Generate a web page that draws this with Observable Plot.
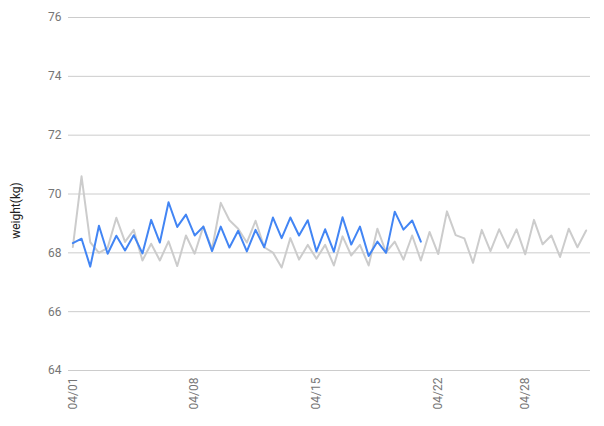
<!DOCTYPE html>
<html>
<head>
<meta charset="utf-8">
<script src="https://cdn.jsdelivr.net/npm/d3@7"></script>
<script src="https://cdn.jsdelivr.net/npm/@observablehq/plot@0.6"></script>
<style>
  html, body { margin: 0; padding: 0; background: #fff; }
</style>
</head>
<body>
<div id="chart"></div>
<script>
const tickLabels = ["04/01", "04/08", "04/15", "04/22", "04/28"];
const tickIndex = [0, 14, 28, 42, 52];
const yTicks = [64, 66, 68, 70, 72, 74, 76];

const grayValues = [
  68.2, 70.6, 68.36, 68.0, 68.17, 69.19, 68.37, 68.78, 67.74, 68.31,
  67.74, 68.39, 67.55, 68.59, 67.97, 68.9, 68.13, 69.7, 69.11, 68.82,
  68.35, 69.09, 68.19, 68.01, 67.5, 68.5, 67.77, 68.27, 67.8, 68.27,
  67.57, 68.56, 67.91, 68.27, 67.57, 68.82, 68.02, 68.38, 67.77, 68.59,
  67.74, 68.71, 67.96, 69.41, 68.6, 68.49, 67.66, 68.78, 68.06, 68.8,
  68.17, 68.8, 67.95, 69.12, 68.29, 68.59, 67.86, 68.82, 68.19, 68.76
];

const blueValues = [
  68.33, 68.48, 67.53, 68.92, 67.97, 68.58, 68.08, 68.6, 67.98, 69.12,
  68.35, 69.72, 68.88, 69.3, 68.59, 68.89, 68.06, 68.89, 68.18, 68.75,
  68.05, 68.78, 68.19, 69.2, 68.5, 69.2, 68.59, 69.11, 68.05, 68.8,
  68.04, 69.21, 68.28, 68.89, 67.89, 68.38, 68.0, 69.4, 68.79, 69.1,
  68.38
];

const chart = Plot.plot({
  width: 604,
  height: 426,
  marginLeft: 68,
  marginRight: 14,
  marginTop: 17,
  marginBottom: 56,
  style: { fontFamily: "Roboto, sans-serif", fontSize: "12px", background: "#fff" },
  x: { type: "linear", domain: [-0.5, grayValues.length - 0.5] },
  y: { domain: [64, 76] },
  marks: [
    Plot.ruleY(yTicks, { stroke: "#cccccc", strokeWidth: 1 }),
    Plot.axisY(yTicks, { tickSize: 0, tickPadding: 7, label: null, color: "#757575", fontSize: 12 }),
    Plot.axisX(tickIndex, {
      tickSize: 0, tickPadding: 7, tickRotate: -90, label: null, color: "#757575", fontSize: 12,
      tickFormat: (d) => tickLabels[tickIndex.indexOf(d)]
    }),
    Plot.lineY(grayValues, { x: (d, i) => i, y: (d) => d, stroke: "#cccccc", strokeWidth: 2 }),
    Plot.lineY(blueValues, { x: (d, i) => i, y: (d) => d, stroke: "#4285f4", strokeWidth: 2 }),
    Plot.text(["weight(kg)"], {
      text: (d) => d, frameAnchor: "left", dx: -52, dy: 16.5, rotate: -90,
      textAnchor: "middle", lineAnchor: "middle", fill: "#222", fontSize: 12
    })
  ]
});
document.getElementById("chart").appendChild(chart);
</script>
</body>
</html>
